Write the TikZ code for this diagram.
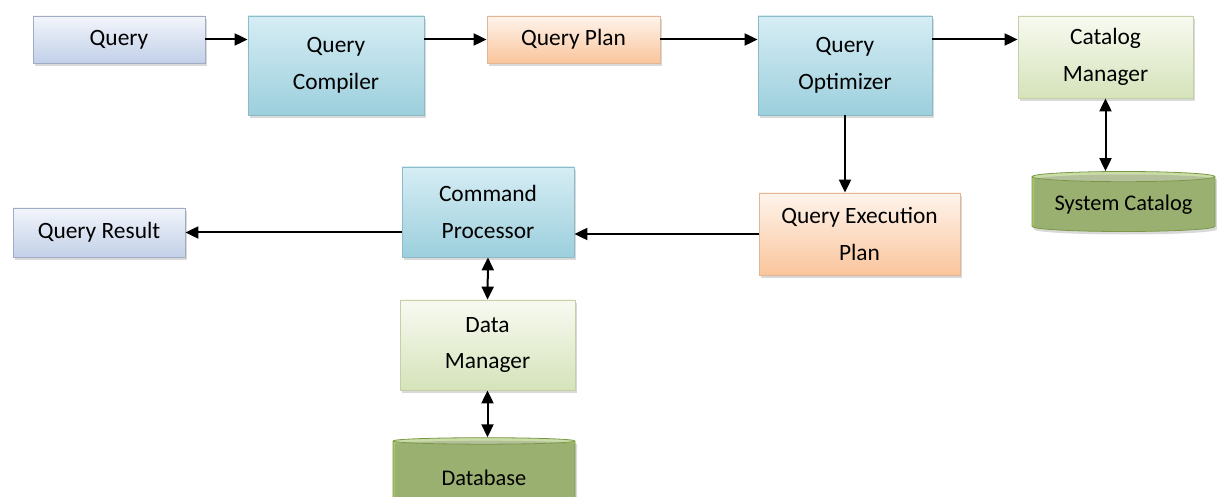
\documentclass[tikz,border=0pt]{standalone}
\usepackage{fontspec}
\setmainfont{Carlito}
\usetikzlibrary{arrows.meta,shadows,shapes.geometric}

\definecolor{qtop}{HTML}{F2F5FB}
\definecolor{qbot}{HTML}{C2D0E8}
\definecolor{qedge}{HTML}{9FACC4}
\definecolor{ptop}{HTML}{D6EDF4}
\definecolor{pbot}{HTML}{9CCFDD}
\definecolor{pedge}{HTML}{8DBCC9}
\definecolor{otop}{HTML}{FEF4EC}
\definecolor{obot}{HTML}{FAC59C}
\definecolor{oedge}{HTML}{E2B594}
\definecolor{mtop}{HTML}{F8FAF1}
\definecolor{mbot}{HTML}{D5E3BA}
\definecolor{medge}{HTML}{C3D0A8}
\definecolor{cylbody}{HTML}{A6C66A}
\definecolor{cylend}{HTML}{CADDA6}
\definecolor{cyledge}{HTML}{7A9848}

\tikzset{
  box/.style={rectangle, align=center, inner sep=2pt, line width=0.4pt,
    font=\fontsize{11.7}{18.3}\selectfont,
    drop shadow={shadow xshift=1pt, shadow yshift=-1.5pt, opacity=0.3}},
  querybox/.style={box, draw=qedge, top color=qtop, bottom color=qbot},
  procbox/.style={box, draw=pedge, top color=ptop, bottom color=pbot},
  planbox/.style={box, draw=oedge, top color=otop, bottom color=obot},
  mgrbox/.style={box, draw=medge, top color=mtop, bottom color=mbot},
  dbcyl/.style={cylinder, shape border rotate=90, aspect=0.07, draw=cyledge,
    line width=0.4pt, cylinder uses custom fill, cylinder body fill=cylbody,
    cylinder end fill=cylend, font=\fontsize{11.2}{14}\selectfont, inner sep=2pt,
    drop shadow={shadow xshift=1pt, shadow yshift=-1.5pt, opacity=0.3}},
  link/.style={line width=1pt}
}

\begin{document}
\begin{tikzpicture}[x=0.5pt, y=-0.5pt, >={Triangle[length=6.5pt,width=6pt]}]
  \useasboundingbox (0,0) rectangle (1217,497);
  \clip (0,0) rectangle (1217,497);

  % top row
  \node[querybox, minimum width=86pt, minimum height=23.5pt] (query) at (119,39.5) {Query};
  \node[procbox, minimum width=88pt, minimum height=49.5pt] (compiler) at (336,65.5) {Query\\Compiler};
  \node[planbox, minimum width=86.5pt, minimum height=23.5pt] (plan) at (573.5,39.5) {Query Plan};
  \node[procbox, minimum width=87pt, minimum height=49.5pt] (optimizer) at (845,65.5) {Query\\Optimizer};
  \node[mgrbox, minimum width=87.5pt, minimum height=41pt] (catalog) at (1105.5,57) {Catalog\\Manager};
  \node[dbcyl, minimum width=91.5pt, minimum height=30pt] (syscat) at (1123.5,205) {System Catalog};

  % lower part
  \node[planbox, minimum width=100.5pt, minimum height=41pt] (execplan) at (859.5,234) {Query Execution\\Plan};
  \node[procbox, minimum width=86pt, minimum height=45pt] (cmdproc) at (488,212) {Command\\Processor};
  \node[querybox, minimum width=86pt, minimum height=24.5pt] (result) at (99,232.5) {Query Result};
  \node[mgrbox, minimum width=87.5pt, minimum height=45pt] (datamgr) at (487.5,345) {Data\\Manager};
  \node[dbcyl, minimum width=91pt, minimum height=37.5pt] (database) at (484,477.5) {Database};

  % connectors
  \draw[link,->] (query.east) -- (query.east -| compiler.west);
  \draw[link,->] (compiler.east |- plan.west) -- (plan.west);
  \draw[link,->] (plan.east) -- (plan.east -| optimizer.west);
  \draw[link,->] (optimizer.east |- plan.east) -- (catalog.west |- plan.east);
  \draw[link,<->] (catalog.south) -- (catalog.south |- syscat.north);
  \draw[link,->] (optimizer.south) -- (optimizer.south |- execplan.north);
  \draw[link,->] (execplan.west) -- (execplan.west -| cmdproc.east);
  \draw[link,->] (cmdproc.west |- result.east) -- (result.east);
  \draw[link,<->] (cmdproc.south) -- (datamgr.north);
  \draw[link,<->] (datamgr.south) -- (datamgr.south |- database.north);
\end{tikzpicture}
\end{document}
